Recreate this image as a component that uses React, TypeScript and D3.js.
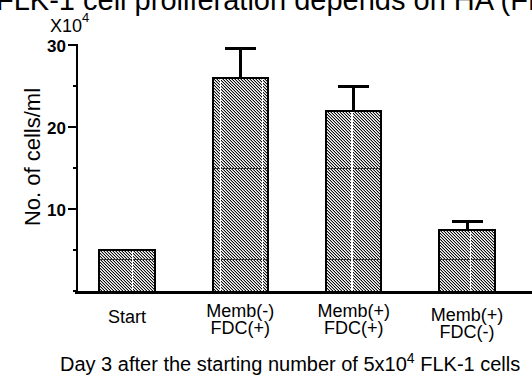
import React from 'react';
import * as d3 from 'd3';

const categories = ['Start', 'Memb(-) FDC(+)', 'Memb(+) FDC(+)', 'Memb(+) FDC(-)'];
const labelLines = [['Start'], ['Memb(-)', 'FDC(+)'], ['Memb(+)', 'FDC(+)'], ['Memb(+)', 'FDC(-)']];
const means = [5, 26, 22, 7.4];
const errors = [0, 3.6, 2.9, 1.05];
const majorTicks = [10, 20, 30];
const minorTicks = [0, 5, 15, 25];
// scanner seams seen in the original figure
const seamValues = [15, 3.8];
const seamFractions = [[0.6], [0.145, 0.9], [0.47], [0.56]];

const W = 532;
const H = 376;
const FONT = '"Liberation Sans", Arial, sans-serif';

export default function App() {
  const x = d3.scaleBand<string>()
    .domain(categories)
    .range([70.3, 523.7])
    .paddingInner(0.51)
    .paddingOuter(0.255);
  const y = d3.scaleLinear().domain([0, 30]).range([291, 45]);
  const bw = x.bandwidth();
  const axisY = 292.5;
  const axisX = 77;

  const bars = categories.map((c, i) => {
    const x0 = x(c) as number;
    const top = y(means[i]);
    const cx = x0 + bw / 2;
    const seams = seamValues
      .filter(v => v < means[i])
      .map((v, j) => (
        <line key={'h' + j} x1={x0} x2={x0 + bw} y1={y(v)} y2={y(v)} stroke="#333" strokeWidth={1} />
      ));
    const vseams = seamFractions[i].map((f, j) => (
      <line key={'v' + j} x1={x0 + f * bw} x2={x0 + f * bw} y1={top + 1} y2={axisY} stroke="#fff" strokeWidth={1.3} />
    ));
    const err = errors[i] > 0 ? (
      <g>
        <line x1={cx} x2={cx} y1={top} y2={y(means[i] + errors[i])} stroke="#000" strokeWidth={3} />
        <line x1={cx - 15.5} x2={cx + 15.5} y1={y(means[i] + errors[i])} y2={y(means[i] + errors[i])} stroke="#000" strokeWidth={3} />
      </g>
    ) : null;
    return (
      <g key={c}>
        {err}
        <rect x={x0} y={top} width={bw} height={axisY - top} fill="url(#hatch)" />
        {seams}
        {vseams}
        <rect x={x0} y={top} width={bw} height={axisY - top} fill="none" stroke="#000" strokeWidth={2} />
      </g>
    );
  });

  return (
    <svg width={W} height={H} style={{ position: 'absolute', left: 0, top: 0, background: '#fff' }}
      fontFamily={FONT} shapeRendering="crispEdges">
      <defs>
        <pattern id="hatch" width={3} height={3} patternUnits="userSpaceOnUse">
          <rect width={3} height={3} fill="#a8a8a8" />
          <rect x={0} y={0} width={1} height={1} fill="#111" />
          <rect x={1} y={1} width={1} height={1} fill="#111" />
          <rect x={2} y={2} width={1} height={1} fill="#111" />
          <rect x={1} y={0} width={1} height={1} fill="#fff" />
          <rect x={2} y={1} width={1} height={1} fill="#fff" />
          <rect x={0} y={2} width={1} height={1} fill="#fff" />
        </pattern>
      </defs>
      <rect width={W} height={H} fill="#fff" />

      <g shapeRendering="auto">
        <text x={-4} y={10} fontSize={29} fill="#000">FLK-1 cell proliferation depends on HA (FDC)</text>

        <text x={50} y={32} fontSize={18}>
          X10<tspan fontSize={13} dy={-10}>4</tspan>
        </text>
      </g>

      {bars}

      <line x1={axisX} x2={axisX} y1={y(30) - 1} y2={y(0)} stroke="#000" strokeWidth={2.5} />
      {majorTicks.map(t => (
        <g key={t}>
          <line x1={axisX - 9} x2={axisX} y1={y(t)} y2={y(t)} stroke="#000" strokeWidth={2.5} />
          <text x={66} y={y(t) + 1.5} fontSize={17} fontWeight="bold" textAnchor="end" dominantBaseline="central">{t}</text>
        </g>
      ))}
      {minorTicks.map(t => (
        <line key={t} x1={axisX - 4} x2={axisX} y1={y(t)} y2={y(t)} stroke="#000" strokeWidth={2} />
      ))}
      <line x1={75} x2={W} y1={axisY} y2={axisY} stroke="#000" strokeWidth={2.5} />

      <text transform="translate(40,157) rotate(-90)" fontSize={22} textAnchor="middle">No. of cells/ml</text>

      {categories.map((c, i) => {
        const cx = (x(c) as number) + bw / 2;
        const lines = labelLines[i];
        const base = lines.length === 1 ? 323 : (i === 3 ? 321 : 317);
        return (
          <text key={c} x={cx} y={base} fontSize={18} textAnchor="middle">
            {lines.map((l, j) => (
              <tspan key={j} x={cx} dy={j === 0 ? 0 : 17}>{l}</tspan>
            ))}
          </text>
        );
      })}

      <text x={60} y={371} fontSize={20}>
        Day 3 after the starting number of 5x10<tspan fontSize={14} dy={-8}>4</tspan><tspan dy={8}> FLK-1 cells</tspan>
      </text>
    </svg>
  );
}
